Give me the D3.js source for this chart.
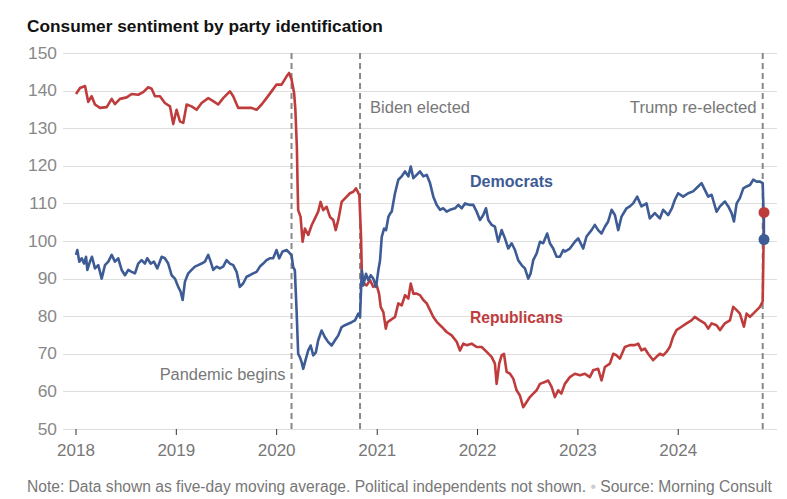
<!DOCTYPE html>
<html><head><meta charset="utf-8">
<script src="https://cdn.jsdelivr.net/npm/d3@7"></script>
<style>
html,body{margin:0;padding:0;background:#fff;}
svg{display:block;font-family:"Liberation Sans",Arial,sans-serif;}
</style></head>
<body><svg id="chart" width="787" height="499"></svg>
<script>
// ---- DATA (time as decimal years) ----
const title = "Consumer sentiment by party identification";
const note = "Note: Data shown as five-day moving average. Political independents not shown.";
const source = "Source: Morning Consult";
const yTicks = [50, 60, 70, 80, 90, 100, 110, 120, 130, 140, 150];
const xTickYears = [2018, 2019, 2020, 2021, 2022, 2023, 2024];
const eventTimes = [2020.153, 2020.834, 2024.845];
const eventLabels = ["Pandemic begins", "Biden elected", "Trump re-elected"];
const seriesNames = ["Democrats", "Republicans"];

const repT = [2018.005,2018.045,2018.095,2018.127,2018.161,2018.194,2018.244,2018.311,2018.361,2018.393,2018.443,2018.510,2018.560,2018.625,2018.675,2018.725,2018.759,2018.792,2018.842,2018.891,2018.942,2018.974,2019.008,2019.041,2019.074,2019.108,2019.157,2019.207,2019.257,2019.323,2019.373,2019.422,2019.472,2019.539,2019.572,2019.622,2019.688,2019.755,2019.805,2019.855,2019.904,2019.954,2020.004,2020.054,2020.104,2020.129,2020.153,2020.179,2020.191,2020.206,2020.213,2020.219,2020.243,2020.263,2020.286,2020.319,2020.353,2020.386,2020.418,2020.442,2020.468,2020.502,2020.535,2020.568,2020.592,2020.618,2020.651,2020.701,2020.734,2020.767,2020.794,2020.827,2020.844,2020.851,2020.867,2020.900,2020.933,2020.966,2021.000,2021.023,2021.040,2021.066,2021.090,2021.106,2021.133,2021.182,2021.215,2021.249,2021.282,2021.315,2021.339,2021.365,2021.398,2021.431,2021.464,2021.498,2021.531,2021.564,2021.598,2021.647,2021.697,2021.747,2021.797,2021.830,2021.863,2021.896,2021.946,2021.996,2022.046,2022.096,2022.145,2022.178,2022.195,2022.221,2022.245,2022.268,2022.295,2022.328,2022.361,2022.394,2022.427,2022.460,2022.494,2022.527,2022.560,2022.594,2022.627,2022.676,2022.709,2022.743,2022.776,2022.809,2022.840,2022.875,2022.925,2022.975,2023.025,2023.075,2023.124,2023.157,2023.207,2023.241,2023.274,2023.324,2023.357,2023.390,2023.423,2023.473,2023.523,2023.573,2023.606,2023.639,2023.672,2023.705,2023.755,2023.789,2023.822,2023.855,2023.888,2023.921,2023.954,2023.988,2024.038,2024.088,2024.137,2024.170,2024.220,2024.270,2024.303,2024.337,2024.386,2024.420,2024.469,2024.519,2024.552,2024.586,2024.618,2024.658,2024.685,2024.718,2024.751,2024.785,2024.818,2024.835,2024.845,2024.851,2024.858];
const repV = [139.1,140.7,141.2,137.0,138.5,136.3,135.4,135.6,137.8,136.4,137.8,138.2,139.1,138.9,139.6,140.9,140.5,138.5,138.5,136.7,135.8,131.1,134.9,131.8,131.4,136.3,135.8,134.9,136.7,138.0,137.2,136.3,138.0,139.8,138.5,135.4,135.4,135.4,134.9,136.3,138.0,139.8,141.6,141.6,143.8,144.7,143.0,139.3,135.0,125.0,115.0,108.2,106.4,99.8,103.3,101.6,104.2,106.0,107.8,110.4,108.2,109.1,106.4,105.6,102.9,105.6,110.4,111.8,112.7,113.1,114.0,112.2,101.1,92.2,88.7,88.2,89.6,87.8,88.2,86.0,82.4,81.1,76.7,78.4,78.9,79.8,83.4,82.9,85.6,84.7,88.7,86.0,86.0,85.6,84.3,83.4,81.6,79.8,78.5,77.2,75.8,74.9,73.2,70.9,72.7,72.3,72.7,71.8,71.8,70.5,69.2,67.4,62.0,67.4,69.6,70.0,65.2,64.7,63.4,60.3,58.9,55.8,57.2,58.5,59.4,60.3,62.0,62.5,62.9,61.2,58.5,60.3,59.4,62.0,63.8,64.7,64.3,64.7,63.8,65.6,66.0,62.9,66.5,67.4,70.0,69.6,68.7,71.8,72.3,72.3,72.7,70.9,71.4,70.0,68.3,69.2,70.0,69.6,70.5,71.8,74.5,76.3,77.2,78.1,78.9,79.8,78.9,78.1,76.7,78.1,77.6,76.3,78.1,78.9,82.5,81.6,80.7,77.2,80.7,79.8,80.7,81.6,82.5,83.4,84.0,95.0,107.6];

const demT = [2018.005,2018.018,2018.038,2018.062,2018.085,2018.105,2018.118,2018.144,2018.164,2018.194,2018.227,2018.261,2018.294,2018.327,2018.361,2018.393,2018.426,2018.460,2018.493,2018.526,2018.560,2018.593,2018.625,2018.659,2018.692,2018.715,2018.749,2018.782,2018.815,2018.859,2018.891,2018.924,2018.958,2018.991,2019.024,2019.048,2019.068,2019.091,2019.124,2019.157,2019.190,2019.223,2019.257,2019.290,2019.323,2019.347,2019.373,2019.406,2019.439,2019.472,2019.506,2019.539,2019.572,2019.606,2019.638,2019.671,2019.705,2019.738,2019.771,2019.805,2019.838,2019.871,2019.904,2019.937,2019.970,2020.004,2020.030,2020.064,2020.104,2020.137,2020.153,2020.169,2020.186,2020.203,2020.219,2020.236,2020.253,2020.269,2020.296,2020.319,2020.343,2020.369,2020.395,2020.418,2020.452,2020.485,2020.518,2020.552,2020.585,2020.618,2020.651,2020.684,2020.717,2020.751,2020.784,2020.817,2020.834,2020.851,2020.867,2020.893,2020.916,2020.940,2020.966,2020.993,2021.016,2021.033,2021.050,2021.073,2021.093,2021.116,2021.133,2021.149,2021.182,2021.215,2021.249,2021.282,2021.315,2021.339,2021.365,2021.398,2021.431,2021.464,2021.498,2021.531,2021.564,2021.598,2021.631,2021.664,2021.697,2021.730,2021.780,2021.813,2021.847,2021.880,2021.929,2021.962,2021.996,2022.029,2022.062,2022.089,2022.112,2022.145,2022.178,2022.211,2022.245,2022.278,2022.311,2022.345,2022.378,2022.410,2022.444,2022.477,2022.510,2022.534,2022.560,2022.594,2022.627,2022.659,2022.699,2022.726,2022.759,2022.793,2022.826,2022.859,2022.875,2022.925,2022.975,2023.008,2023.058,2023.091,2023.141,2023.174,2023.207,2023.241,2023.274,2023.307,2023.341,2023.374,2023.407,2023.440,2023.490,2023.523,2023.556,2023.596,2023.639,2023.689,2023.722,2023.772,2023.822,2023.855,2023.905,2023.942,2023.971,2024.004,2024.054,2024.104,2024.153,2024.203,2024.237,2024.270,2024.303,2024.337,2024.386,2024.420,2024.469,2024.503,2024.536,2024.559,2024.586,2024.618,2024.652,2024.685,2024.718,2024.751,2024.785,2024.818,2024.845,2024.853,2024.858];
const demV = [96.3,97.6,94.5,95.4,94.0,95.8,92.3,94.5,95.8,92.7,93.6,90.0,93.6,94.5,96.3,94.5,95.4,92.3,90.9,92.3,91.8,91.4,94.0,94.9,94.0,95.4,94.0,94.5,92.7,95.8,95.4,94.0,90.9,90.0,87.8,86.5,84.3,89.2,91.4,92.3,93.2,93.6,94.0,94.5,96.3,94.5,92.3,93.2,92.7,93.2,94.9,94.0,93.6,91.8,87.8,88.7,90.5,90.9,91.4,91.8,93.2,94.0,94.9,95.4,95.4,97.6,95.4,97.2,97.6,96.7,96.2,93.1,92.2,81.6,70.0,69.1,67.8,66.0,68.7,70.9,72.2,69.6,70.4,73.6,76.2,74.4,73.1,72.2,73.6,74.9,77.1,77.6,78.0,78.4,78.9,80.7,79.8,92.2,88.2,91.3,89.6,90.9,90.0,87.8,92.2,94.9,101.1,103.3,102.9,106.4,107.3,107.8,112.7,116.3,117.2,118.5,117.2,119.8,116.7,117.6,118.5,117.2,117.6,115.4,111.8,109.6,108.3,108.7,107.8,108.3,108.7,109.6,108.7,110.0,109.6,109.6,107.8,105.6,106.9,108.7,105.6,104.3,103.8,99.8,102.9,100.7,98.0,99.4,97.6,94.9,93.6,92.7,90.0,91.4,94.9,96.7,99.8,99.4,102.0,99.4,98.0,95.8,95.8,97.6,97.2,98.0,99.8,100.7,98.0,101.2,102.9,104.3,102.9,102.0,103.8,105.2,108.3,106.9,102.9,106.5,108.7,109.2,110.0,111.8,109.2,110.0,106.0,107.4,106.0,108.3,106.9,108.7,110.9,112.7,111.8,112.7,113.2,114.5,115.4,113.6,111.8,112.3,107.8,109.2,110.5,109.2,107.4,105.2,110.0,111.4,114.0,114.5,114.9,116.3,115.8,115.8,115.4,108.0,100.4];

// ---- helpers ----
function toDate(t){
  const y = Math.floor(t);
  const s = new Date(y,0,1), e = new Date(y+1,0,1);
  return new Date(+s + (t - y) * (e - s));
}
function fit(sel, target){
  const n = sel.node();
  const fs = parseFloat(sel.attr("font-size"));
  const w = n.getComputedTextLength();
  if (w > 0) sel.attr("font-size", (fs * target / w).toFixed(2));
  return sel;
}

const svg = d3.select("#chart");
const x = d3.scaleTime().domain([new Date(2018,0,1), new Date(2025,0,1)]).range([75.5, 778.3]);
const y = d3.scaleLinear().domain([50,150]).range([429,53]);

const RED = "#bf3c3c", BLUE = "#3d5b95";

// gridlines
svg.append("g").selectAll("line").data(yTicks).join("line")
  .attr("x1",63).attr("x2",777)
  .attr("y1",d=>Math.round(y(d))+0.5).attr("y2",d=>Math.round(y(d))+0.5)
  .attr("stroke","#dedede").attr("stroke-width",1);

// y labels
const yl = svg.append("g").selectAll("text").data(yTicks).join("text")
  .attr("x",57).attr("y",d=>y(d)+5.5)
  .attr("text-anchor","end").attr("fill","#888").attr("font-size",16)
  .text(d=>d);
fit(d3.select(yl.nodes()[10]), 29);
yl.attr("font-size", d3.select(yl.nodes()[10]).attr("font-size"));

// x axis
const xa = d3.axisBottom(x)
  .tickValues(xTickYears.map(yr=>new Date(yr,0,1)))
  .tickFormat(d3.timeFormat("%Y")).tickSize(6).tickPadding(9);
const xg = svg.append("g").attr("transform","translate(0,429)").call(xa);
xg.select(".domain").remove();
xg.selectAll(".tick line").attr("stroke","#333");
xg.selectAll(".tick text").attr("fill","#777").attr("font-size",17)
  .attr("font-family",'"Liberation Sans",Arial,sans-serif').attr("dy","0.71em");

// event dashed lines
svg.append("g").selectAll("line").data(eventTimes).join("line")
  .attr("x1",d=>x(toDate(d))).attr("x2",d=>x(toDate(d)))
  .attr("y1",53).attr("y2",429)
  .attr("stroke","#888").attr("stroke-width",2).attr("stroke-dasharray","6,4");

// event labels
const evPos = [
  {anchor:"end", dx:-6, y:380, w:126},
  {anchor:"start", dx:10, y:113, w:100},
  {anchor:"end", dx:-6, y:113, w:127}
];
eventLabels.forEach((lab,i)=>{
  const p = evPos[i];
  const t = svg.append("text")
    .attr("x", x(toDate(eventTimes[i])) + p.dx).attr("y", p.y)
    .attr("text-anchor", p.anchor).attr("fill","#777").attr("font-size",16)
    .text(lab);
  fit(t, p.w);
});

// lines
const line = d3.line().x(d=>x(d[0])).y(d=>y(d[1])).curve(d3.curveLinear);
const rep = repT.map((t,i)=>[toDate(t), repV[i]]);
const dem = demT.map((t,i)=>[toDate(t), demV[i]]);
svg.append("path").datum(rep).attr("d",line).attr("fill","none")
  .attr("stroke",RED).attr("stroke-width",2.6).attr("stroke-linejoin","round");
svg.append("path").datum(dem).attr("d",line).attr("fill","none")
  .attr("stroke",BLUE).attr("stroke-width",2.6).attr("stroke-linejoin","round");

// end dots
svg.append("circle").attr("cx",x(rep[rep.length-1][0])).attr("cy",y(rep[rep.length-1][1]))
  .attr("r",5.5).attr("fill",RED);
svg.append("circle").attr("cx",x(dem[dem.length-1][0])).attr("cy",y(dem[dem.length-1][1]))
  .attr("r",5.5).attr("fill",BLUE);

// series labels
fit(svg.append("text").attr("x",470).attr("y",187).attr("fill",BLUE)
  .attr("font-weight","bold").attr("font-size",16).text(seriesNames[0]), 83);
fit(svg.append("text").attr("x",470).attr("y",323).attr("fill",RED)
  .attr("font-weight","bold").attr("font-size",16).text(seriesNames[1]), 93);

// title
fit(svg.append("text").attr("x",27).attr("y",32).attr("fill","#121212")
  .attr("font-weight","bold").attr("font-size",17).text(title), 356);

// footnote
const ft = svg.append("text").attr("x",27).attr("y",492).attr("fill","#777").attr("font-size",14);
ft.append("tspan").text(note + " ");
ft.append("tspan").attr("fill","#ccc").text("•");
ft.append("tspan").text(" " + source);
fit(ft, 745);
</script></body></html>
